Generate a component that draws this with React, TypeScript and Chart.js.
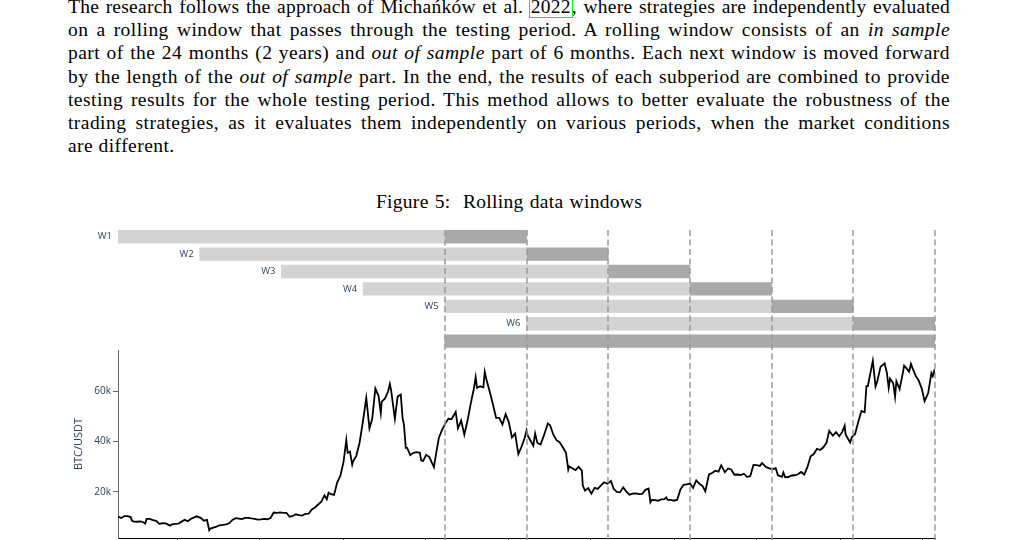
import React, { useEffect, useRef } from 'react';
import { Chart, registerables } from 'chart.js';

Chart.register(...registerables);

// ---------- data ----------
const START_DATE = '2019-08-24';
const windowLabels = ['W1', 'W2', 'W3', 'W4', 'W5', 'W6'];
// day offsets from START_DATE
const inSampleStart = [0, 180, 360, 540, 720, 900];
const inSampleEnd = [720, 900, 1080, 1260, 1440, 1620];
const outSampleEnd = [900, 1080, 1260, 1440, 1620, 1800];
const testingPeriod = [720, 1800];
const boundaryDays = [720, 900, 1080, 1260, 1440, 1620, 1800];

const xTickDates = ['2020-01-01', '2020-07-01', '2021-01-01', '2021-07-01', '2022-01-01', '2022-07-01', '2023-01-01', '2023-07-01', '2024-01-01', '2024-07-01'];
const xTickLabels = ['Jan 2020', 'Jul 2020', 'Jan 2021', 'Jul 2021', 'Jan 2022', 'Jul 2022', 'Jan 2023', 'Jul 2023', 'Jan 2024', 'Jul 2024'];
const yTickValues = [20, 40, 60];
const yTickLabels = ['20k', '40k', '60k'];

// BTC/USDT close, thousands
const prices2019: [string, number][] = [
  ['2019-08-24', 10.2], ['2019-08-31', 9.6], ['2019-09-07', 10.4], ['2019-09-14', 10.35], ['2019-09-21', 10.0],
  ['2019-09-24', 8.55], ['2019-09-28', 8.2], ['2019-10-05', 8.15], ['2019-10-12', 8.3], ['2019-10-19', 7.95],
  ['2019-10-23', 7.45], ['2019-10-26', 9.25], ['2019-11-02', 9.3], ['2019-11-09', 8.8], ['2019-11-16', 8.5],
  ['2019-11-23', 7.3], ['2019-11-30', 7.55], ['2019-12-07', 7.5], ['2019-12-17', 6.6], ['2019-12-21', 7.15],
  ['2019-12-28', 7.3],
];
const prices2020: [string, number][] = [
  ['2020-01-04', 7.4], ['2020-01-11', 8.2], ['2020-01-18', 8.9], ['2020-01-25', 8.35], ['2020-02-01', 9.35],
  ['2020-02-08', 9.9], ['2020-02-13', 10.3], ['2020-02-22', 9.7], ['2020-02-29', 8.55], ['2020-03-07', 8.9],
  ['2020-03-12', 4.8], ['2020-03-14', 5.35], ['2020-03-21', 5.8], ['2020-03-28', 6.25], ['2020-04-04', 6.75],
  ['2020-04-11', 6.9], ['2020-04-18', 7.1], ['2020-04-25', 7.55], ['2020-05-02', 8.9], ['2020-05-09', 9.55],
  ['2020-05-16', 9.4], ['2020-05-23', 9.2], ['2020-05-30', 9.7], ['2020-06-06', 9.65], ['2020-06-13', 9.45],
  ['2020-06-20', 9.3], ['2020-06-27', 9.0], ['2020-07-04', 9.05], ['2020-07-11', 9.25], ['2020-07-18', 9.15],
  ['2020-07-25', 9.6], ['2020-08-01', 11.8], ['2020-08-08', 11.7], ['2020-08-15', 11.85], ['2020-08-22', 11.7],
  ['2020-08-29', 11.7], ['2020-09-05', 10.1], ['2020-09-12', 10.45], ['2020-09-19', 11.1], ['2020-09-26', 10.75],
  ['2020-10-03', 10.6], ['2020-10-10', 11.3], ['2020-10-17', 11.35], ['2020-10-24', 13.0], ['2020-10-31', 13.8],
  ['2020-11-07', 15.0], ['2020-11-14', 16.1], ['2020-11-21', 18.6], ['2020-11-26', 17.1], ['2020-11-30', 19.7],
  ['2020-12-05', 19.1], ['2020-12-12', 18.8], ['2020-12-19', 23.8], ['2020-12-26', 26.4],
];
const prices2021: [string, number][] = [
  ['2021-01-02', 32.0], ['2021-01-08', 40.6], ['2021-01-11', 35.5], ['2021-01-16', 36.0], ['2021-01-21', 30.8],
  ['2021-01-23', 32.1], ['2021-01-30', 34.3], ['2021-02-06', 39.3], ['2021-02-13', 47.2], ['2021-02-21', 57.3],
  ['2021-02-28', 45.2], ['2021-03-06', 48.9], ['2021-03-13', 61.0], ['2021-03-20', 58.1], ['2021-03-25', 51.3],
  ['2021-03-27', 55.8], ['2021-04-03', 57.0], ['2021-04-10', 59.8], ['2021-04-14', 62.8], ['2021-04-17', 60.0],
  ['2021-04-25', 49.0], ['2021-05-01', 57.8], ['2021-05-08', 58.6], ['2021-05-12', 49.2], ['2021-05-15', 46.7],
  ['2021-05-19', 37.5], ['2021-05-22', 37.5], ['2021-05-29', 34.6], ['2021-06-05', 35.5], ['2021-06-12', 35.8],
  ['2021-06-19', 35.5], ['2021-06-22', 32.5], ['2021-06-26', 32.2], ['2021-07-03', 34.7], ['2021-07-10', 33.8],
  ['2021-07-20', 29.8], ['2021-07-24', 34.3], ['2021-07-31', 41.5], ['2021-08-07', 44.6], ['2021-08-14', 47.1],
  ['2021-08-21', 49.0], ['2021-08-28', 48.9], ['2021-09-06', 51.7], ['2021-09-11', 45.2], ['2021-09-18', 48.3],
  ['2021-09-25', 42.7], ['2021-10-02', 48.2], ['2021-10-09', 54.9], ['2021-10-16', 60.9], ['2021-10-20', 65.5],
  ['2021-10-23', 61.3], ['2021-10-30', 61.9], ['2021-11-06', 61.5], ['2021-11-09', 67.6], ['2021-11-13', 64.4],
  ['2021-11-20', 59.7], ['2021-11-27', 54.8], ['2021-12-04', 49.4], ['2021-12-11', 49.4], ['2021-12-18', 46.7],
  ['2021-12-25', 50.8],
];
const prices2022: [string, number][] = [
  ['2022-01-01', 47.7], ['2022-01-08', 41.6], ['2022-01-15', 43.1], ['2022-01-22', 35.0], ['2022-01-29', 37.9],
  ['2022-02-05', 41.4], ['2022-02-09', 44.4], ['2022-02-12', 42.2], ['2022-02-19', 40.0], ['2022-02-24', 38.3],
  ['2022-02-28', 43.2], ['2022-03-05', 39.4], ['2022-03-12', 38.8], ['2022-03-19', 42.2], ['2022-03-28', 47.1],
  ['2022-04-02', 46.4], ['2022-04-09', 42.8], ['2022-04-16', 40.5], ['2022-04-23', 39.7], ['2022-04-30', 37.7],
  ['2022-05-07', 35.5], ['2022-05-12', 28.9], ['2022-05-14', 30.1], ['2022-05-21', 29.4], ['2022-05-28', 28.6],
  ['2022-06-04', 29.9], ['2022-06-11', 28.4], ['2022-06-13', 22.5], ['2022-06-18', 20.5], ['2022-06-25', 21.5],
  ['2022-07-02', 19.3], ['2022-07-09', 21.6], ['2022-07-16', 21.2], ['2022-07-23', 22.6], ['2022-07-30', 23.8],
  ['2022-08-06', 23.2], ['2022-08-14', 24.3], ['2022-08-20', 21.2], ['2022-08-27', 20.0], ['2022-09-03', 19.8],
  ['2022-09-10', 21.8], ['2022-09-17', 20.1], ['2022-09-24', 18.9], ['2022-10-01', 19.3], ['2022-10-08', 19.4],
  ['2022-10-15', 19.1], ['2022-10-22', 19.2], ['2022-10-29', 20.8], ['2022-11-05', 21.3], ['2022-11-09', 15.9],
  ['2022-11-12', 16.8], ['2022-11-19', 16.7], ['2022-11-26', 16.5], ['2022-12-03', 17.0], ['2022-12-10', 17.1],
  ['2022-12-14', 17.8], ['2022-12-17', 16.8], ['2022-12-24', 16.8], ['2022-12-31', 16.5],
];
const prices2023: [string, number][] = [
  ['2023-01-07', 16.9], ['2023-01-14', 20.9], ['2023-01-21', 22.8], ['2023-01-28', 23.0], ['2023-02-04', 23.3],
  ['2023-02-11', 21.6], ['2023-02-18', 24.6], ['2023-02-25', 23.2], ['2023-03-04', 22.3], ['2023-03-10', 20.2],
  ['2023-03-18', 26.9], ['2023-03-25', 27.5], ['2023-04-01', 28.4], ['2023-04-08', 28.0], ['2023-04-14', 30.5],
  ['2023-04-22', 27.8], ['2023-04-29', 29.3], ['2023-05-06', 28.9], ['2023-05-13', 26.8], ['2023-05-20', 26.9],
  ['2023-05-27', 26.7], ['2023-06-03', 27.2], ['2023-06-10', 25.9], ['2023-06-17', 26.3], ['2023-06-24', 30.7],
  ['2023-07-01', 30.6], ['2023-07-08', 30.3], ['2023-07-13', 31.4], ['2023-07-22', 29.8], ['2023-07-29', 29.3],
  ['2023-08-05', 29.0], ['2023-08-12', 29.4], ['2023-08-17', 26.6], ['2023-08-26', 26.0], ['2023-08-29', 27.7],
  ['2023-09-02', 25.8], ['2023-09-09', 25.9], ['2023-09-16', 26.5], ['2023-09-23', 26.6], ['2023-09-30', 27.0],
  ['2023-10-07', 27.9], ['2023-10-14', 26.9], ['2023-10-21', 29.9], ['2023-10-28', 34.1], ['2023-11-04', 35.0],
  ['2023-11-11', 37.1], ['2023-11-18', 36.6], ['2023-11-25', 37.7], ['2023-12-02', 39.5], ['2023-12-08', 44.2],
  ['2023-12-16', 42.3], ['2023-12-23', 43.7], ['2023-12-30', 42.1],
];
const prices2024: [string, number][] = [
  ['2024-01-06', 43.9], ['2024-01-11', 46.3], ['2024-01-13', 42.8], ['2024-01-23', 39.6], ['2024-01-27', 41.8],
  ['2024-02-03', 43.0], ['2024-02-10', 47.8], ['2024-02-17', 52.1], ['2024-02-24', 51.6], ['2024-02-28', 62.0],
  ['2024-03-02', 62.0], ['2024-03-09', 68.3], ['2024-03-13', 72.0], ['2024-03-19', 61.9], ['2024-03-23', 64.0],
  ['2024-03-30', 69.6], ['2024-04-08', 71.0], ['2024-04-13', 67.2], ['2024-04-17', 61.3], ['2024-04-20', 64.9],
  ['2024-04-27', 63.1], ['2024-05-01', 57.8], ['2024-05-04', 63.9], ['2024-05-11', 60.8], ['2024-05-18', 67.0],
  ['2024-05-21', 70.1], ['2024-05-25', 69.3], ['2024-06-01', 67.7], ['2024-06-05', 70.8], ['2024-06-08', 69.3],
  ['2024-06-15', 66.2], ['2024-06-22', 64.2], ['2024-06-29', 60.9], ['2024-07-05', 56.0], ['2024-07-13', 59.2],
  ['2024-07-20', 67.1], ['2024-07-23', 65.9], ['2024-07-26', 67.9], ['2024-07-28', 66.8],
];

// ---------- helpers ----------
const DAY_MS = 86400000;
const startMs = Date.parse(START_DATE + 'T00:00:00Z');
const toDay = (s: string) => (Date.parse(s + 'T00:00:00Z') - startMs) / DAY_MS;

const priceSeries = [...prices2019, ...prices2020, ...prices2021, ...prices2022, ...prices2023, ...prices2024];
const xTickDays = xTickDates.map(toDay);

const LABEL_COLOR = '#2a3f5f';
const AXIS_FONT = 'Open Sans';

const overlayPlugin = {
  id: 'windowOverlay',
  afterDatasetsDraw(chart: any) {
    const { ctx, chartArea } = chart;
    const x = chart.scales.x;
    const yG = chart.scales.yG;
    ctx.save();
    ctx.font = `9.5px "${AXIS_FONT}"`;
    ctx.fillStyle = LABEL_COLOR;
    ctx.textAlign = 'right';
    ctx.textBaseline = 'middle';
    windowLabels.forEach((lab, i) => {
      ctx.fillText(lab, x.getPixelForValue(inSampleStart[i]) - 6, yG.getPixelForValue(i + 1));
    });
    ctx.strokeStyle = '#9a9a9a';
    ctx.lineWidth = 1.5;
    ctx.setLineDash([6, 3.5]);
    boundaryDays.forEach((d) => {
      const px = Math.round(x.getPixelForValue(d));
      ctx.beginPath();
      ctx.moveTo(px, chartArea.top);
      ctx.lineTo(px, chartArea.bottom + 6);
      ctx.stroke();
    });
    ctx.restore();
  },
};

function BtcWindowsChart() {
  const ref = useRef<HTMLCanvasElement>(null);
  useEffect(() => {
    if (!ref.current) return;
    const chart = new Chart(ref.current, {
      type: 'bar',
      data: {
        datasets: [
          {
            type: 'bar',
            label: 'in sample',
            indexAxis: 'y',
            xAxisID: 'x',
            yAxisID: 'yG',
            grouped: false,
            barThickness: 12.7,
            backgroundColor: '#d3d3d3',
            borderWidth: 0,
            data: windowLabels.map((_, i) => ({ y: i + 1, x: [inSampleStart[i], inSampleEnd[i]] })),
          } as any,
          {
            type: 'bar',
            label: 'out of sample',
            indexAxis: 'y',
            xAxisID: 'x',
            yAxisID: 'yG',
            grouped: false,
            barThickness: 12.7,
            backgroundColor: '#a9a9a9',
            borderWidth: 0,
            data: [
              ...windowLabels.map((_, i) => ({ y: i + 1, x: [inSampleEnd[i], outSampleEnd[i]] })),
              { y: 7, x: testingPeriod },
            ],
          } as any,
          {
            type: 'line',
            label: 'BTC/USDT',
            xAxisID: 'x',
            yAxisID: 'yP',
            borderColor: '#000000',
            borderWidth: 1.8,
            pointRadius: 0,
            tension: 0,
            data: priceSeries.map(([d, v]) => ({ x: toDay(d), y: v })),
          } as any,
        ],
      },
      options: {
        responsive: true,
        maintainAspectRatio: false,
        animation: false,
        events: [],
        layout: { padding: { top: 10, right: 85, left: 0, bottom: 0 } },
        plugins: { legend: { display: false }, tooltip: { enabled: false } },
        scales: {
          x: {
            type: 'linear',
            position: 'bottom',
            min: 0,
            max: 1800,
            offset: false,
            afterBuildTicks: (s: any) => { s.ticks = xTickDays.map((v) => ({ value: v })); },
            afterFit: (s: any) => { s.height = 30; },
            ticks: {
              autoSkip: false,
              maxRotation: 0,
              color: LABEL_COLOR,
              font: { family: AXIS_FONT, size: 10 },
              callback: (v: any) => xTickLabels[xTickDays.indexOf(v)] ?? '',
            },
            grid: { display: true, offset: false, drawOnChartArea: false, drawTicks: true, tickLength: 5, color: '#444' },
            border: { display: true, color: '#000', width: 1 },
          },
          yP: {
            type: 'linear',
            position: 'left',
            stack: 'v',
            stackWeight: 188,
            min: 1.7,
            max: 76.3,
            beginAtZero: false,
            offset: false,
            afterBuildTicks: (s: any) => { s.ticks = yTickValues.map((v) => ({ value: v })); },
            afterFit: (s: any) => { s.width = 118; },
            ticks: {
              padding: 2,
              color: LABEL_COLOR,
              font: { family: AXIS_FONT, size: 10 },
              callback: (v: any) => yTickLabels[yTickValues.indexOf(v)] ?? '',
            },
            grid: { display: true, drawOnChartArea: false, drawTicks: true, tickLength: 5, color: '#666' },
            border: { display: true, color: '#666', width: 1 },
            title: {
              display: true,
              text: 'BTC/USDT',
              color: LABEL_COLOR,
              font: { family: AXIS_FONT, size: 11 },
              padding: { top: 72, bottom: 0 },
            },
          },
          yG: {
            type: 'linear',
            position: 'left',
            stack: 'v',
            stackWeight: 120,
            min: 0.615,
            max: 7.51,
            reverse: true,
            beginAtZero: false,
            offset: false,
            afterFit: (s: any) => { s.width = 118; },
            ticks: { display: false },
            grid: { display: false },
            border: { display: false },
          },
        },
      } as any,
      plugins: [overlayPlugin],
    });
    return () => chart.destroy();
  }, []);
  return <canvas ref={ref} />;
}

const serif = '"Liberation Serif", "Times New Roman", serif';
const lineStyle = (last = false, spacing = '0.45px'): React.CSSProperties => ({
  textAlign: 'justify',
  textAlignLast: last ? 'left' : 'justify',
  height: 23.3,
  letterSpacing: spacing,
});

export default function App() {
  return (
    <div style={{ position: 'fixed', left: 0, top: 0, width: 1020, height: 540, overflow: 'hidden', background: '#fff' }}>
      <div
        style={{
          position: 'absolute', left: 68, top: -5.4, width: 882,
          fontFamily: serif, fontSize: 19.5, lineHeight: '23.3px', color: '#000',
        }}
      >
        <div style={lineStyle(false, '0.25px')}>
          The research follows the approach of Michańków et al.{' '}
          <span style={{ outline: '1.5px solid #00ff00', outlineOffset: 0, padding: '0 1px' }}>2022</span>, where strategies are independently evaluated
        </div>
        <div style={lineStyle()}>
          on a rolling window that passes through the testing period. A rolling window consists of an <i>in sample</i>
        </div>
        <div style={lineStyle()}>
          part of the 24 months (2 years) and <i>out of sample</i> part of 6 months. Each next window is moved forward
        </div>
        <div style={lineStyle()}>
          by the length of the <i>out of sample</i> part. In the end, the results of each subperiod are combined to provide
        </div>
        <div style={lineStyle()}>
          testing results for the whole testing period. This method allows to better evaluate the robustness of the
        </div>
        <div style={lineStyle()}>
          trading strategies, as it evaluates them independently on various periods, when the market conditions
        </div>
        <div style={lineStyle(true)}>are different.</div>
      </div>
      <div
        style={{
          position: 'absolute', left: 68, top: 189.8, width: 882, textAlign: 'center',
          fontFamily: serif, fontSize: 19.5, lineHeight: '23.3px', letterSpacing: '0.3px', wordSpacing: '1px', color: '#000',
        }}
      >
        Figure 5:&nbsp; Rolling data windows
      </div>
      <div style={{ position: 'absolute', left: 0, top: 220, width: 1020, height: 348 }}>
        <BtcWindowsChart />
      </div>
    </div>
  );
}
